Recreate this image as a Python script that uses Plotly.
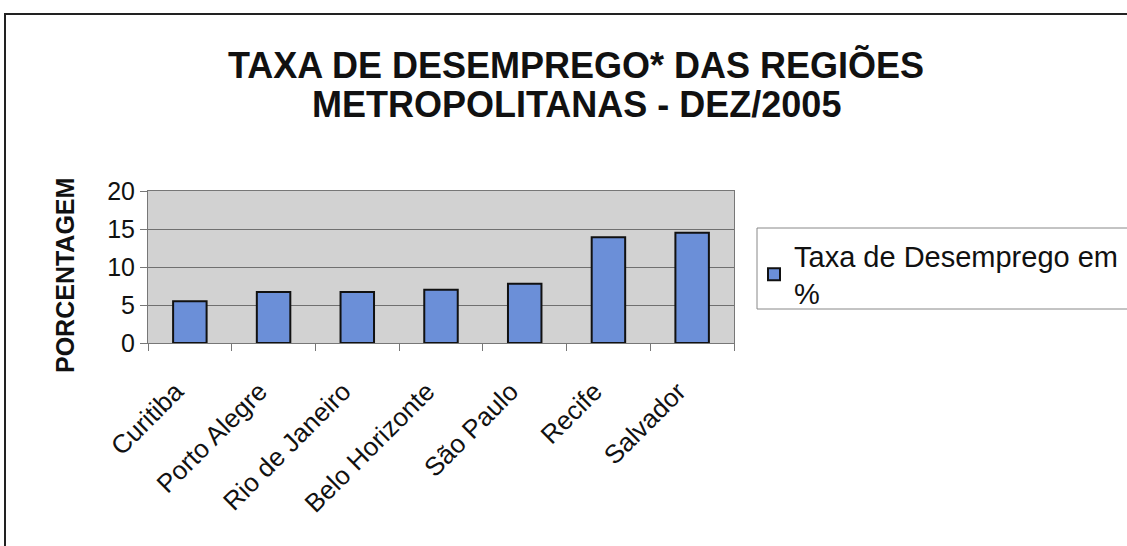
import plotly.graph_objects as go

categories = ["Curitiba", "Porto Alegre", "Rio de Janeiro", "Belo Horizonte", "São Paulo", "Recife", "Salvador"]
values = [5.5, 6.7, 6.7, 7.0, 7.8, 13.9, 14.5]
series_name = "Taxa de Desemprego em<br>%"
y_ticks = [0, 5, 10, 15, 20]
title_lines = ["TAXA DE DESEMPREGO* DAS REGIÕES", "METROPOLITANAS - DEZ/2005"]

W, H = 1127, 546
L, R, T, B = 148, 734, 191, 343

def px(x):
    return (x - L) / (R - L)

def py(y):
    return (B - y) / (B - T)

fig = go.Figure()
fig.add_trace(go.Bar(
    x=categories, y=values, name=series_name,
    marker=dict(color="#6b8fd8", line=dict(color="#111111", width=2)),
    width=0.4, showlegend=True,
))

fig.update_layout(
    width=W, height=H,
    margin=dict(l=L, r=W - R, t=T, b=H - B, autoexpand=False),
    paper_bgcolor="white", plot_bgcolor="#d2d2d2",
    font=dict(family="Liberation Sans, Arial", color="#111111"),
    xaxis=dict(tickangle=-45, tickfont=dict(size=26), ticks="outside",
               ticklen=7, tickcolor="#777777", tickson="boundaries",
               ticklabelstandoff=22, ticklabelshift=-14,
               showline=True, linecolor="#777777", mirror=True, showgrid=False),
    yaxis=dict(range=[0, 20], tickvals=y_ticks, tickfont=dict(size=25),
               ticks="outside", ticklen=7, tickcolor="#777777",
               showline=True, linecolor="#777777", mirror=True,
               showgrid=True, gridcolor="#707070", gridwidth=1, zeroline=False),
    legend=dict(x=px(754), y=py(230), xanchor="left", yanchor="top",
                font=dict(size=29, color="#111111"), bgcolor="rgba(0,0,0,0)",
                borderwidth=0, itemwidth=30),
    showlegend=True,
    bargap=0.6,
)

for line, yc in zip(title_lines, [65, 105]):
    fig.add_annotation(text="<b>" + line + "</b>", x=px(576), y=py(yc), xref="paper", yref="paper",
                       showarrow=False, font=dict(size=36, color="#111111"),
                       xanchor="center", yanchor="middle")

fig.add_annotation(text="<b>PORCENTAGEM</b>", x=px(65), y=py(276), xref="paper", yref="paper",
                   textangle=-90, showarrow=False, font=dict(size=25, color="#111111"),
                   xanchor="center", yanchor="middle")

# legend box
fig.add_shape(type="rect", xref="paper", yref="paper",
              x0=px(757), x1=px(1140), y0=py(309), y1=py(228),
              line=dict(color="#888888", width=1))
# outer chart border
fig.add_shape(type="rect", xref="paper", yref="paper",
              x0=px(5), x1=px(1140), y0=py(560), y1=py(14),
              line=dict(color="#222222", width=2))

fig.write_html("out.html")
